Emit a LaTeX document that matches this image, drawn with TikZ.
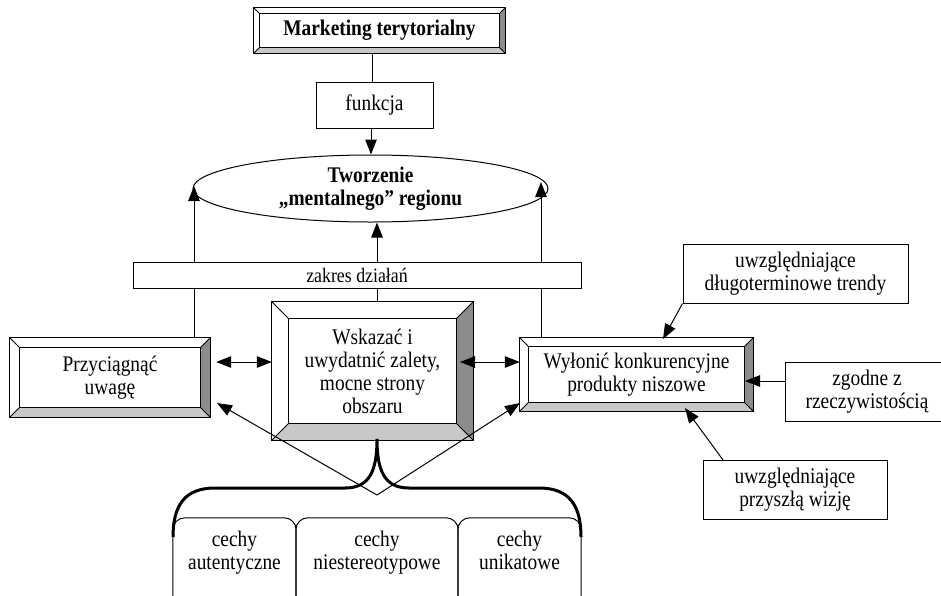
\documentclass[tikz,border=0pt]{standalone}
\usepackage{fontspec}
\setmainfont{Liberation Serif}[FakeStretch=0.87]
\usetikzlibrary{arrows.meta,calc,shapes.geometric,backgrounds}
\definecolor{bevdark}{HTML}{8C8C8C}
\definecolor{bevlight}{HTML}{C8C8C8}
\newcommand\bevbox[2]{%
  \begin{pgfonlayer}{background}
  \fill[white] (#1.north west) rectangle (#1.south east);
  \fill[bevlight] (#1.south west) -- (#1.south east) -- ($(#1.south east)+(-#2pt,#2pt)$) -- ($(#1.south west)+(#2pt,#2pt)$) -- cycle;
  \fill[bevdark] (#1.north east) -- (#1.south east) -- ($(#1.south east)+(-#2pt,#2pt)$) -- ($(#1.north east)+(-#2pt,-#2pt)$) -- cycle;
  \draw[ln] (#1.north west) rectangle (#1.south east);
  \draw[ln] ($(#1.north west)+(#2pt,-#2pt)$) rectangle ($(#1.south east)+(-#2pt,#2pt)$);
  \draw[ln] (#1.north west) -- ++(#2pt,-#2pt);
  \draw[ln] (#1.north east) -- ++(-#2pt,-#2pt);
  \draw[ln] (#1.south west) -- ++(#2pt,#2pt);
  \draw[ln] (#1.south east) -- ++(-#2pt,#2pt);
  \end{pgfonlayer}}
\begin{document}
\begin{tikzpicture}[x=1pt,y=-1pt,
  every node/.style={font=\fontsize{22.3}{23}\selectfont, align=center, inner sep=0pt},
  bold/.style={font=\fontsize{22.3}{23}\selectfont\bfseries},
  ln/.style={line width=1pt},
  box/.style={draw, ln, fill=white},
  tip/.style={},
  arr/.style={ln, -{Triangle[length=15pt,width=11.5pt]}},
  darr/.style={ln, {Triangle[length=15pt,width=11.5pt]}-{Triangle[length=15pt,width=11.5pt]}},
  brace/.style={line width=3pt},
]
\useasboundingbox (0,0) rectangle (941,595);
\clip (0,0) rectangle (941,595);

% nodes
\node[bold, minimum width=251pt, minimum height=45pt] (mt) at (379.5,30.5) {Marketing terytorialny};
\node[box, minimum width=117pt, minimum height=46pt] (fn) at (374.5,105) {funkcja};
\node[draw, ln, ellipse, bold, minimum width=355pt, minimum height=67pt] (el) at (370.5,188.5) {Tworzenie\\„mentalnego” regionu};
\node[box, minimum width=448pt, minimum height=26pt, font=\fontsize{20.5}{22}\selectfont] (zk) at (357,275) {zakres działań};
\node[minimum width=200pt, minimum height=79pt] (pu) at (110,377.5) {Przyciągnąć\\uwagę};
\node[minimum width=201pt, minimum height=138pt] (wu) at (372.5,371) {Wskazać i\\uwydatnić zalety,\\mocne strony\\obszaru};
\node[minimum width=233pt, minimum height=73pt] (wk) at (636.5,374.5) {Wyłonić konkurencyjne\\produkty niszowe};
\node[box, minimum width=225pt, minimum height=59pt] (dt) at (795.5,273.5) {uwzględniające\\długoterminowe trendy};
\node[box, minimum width=164pt, minimum height=59pt] (zr) at (867,391.5) {zgodne z\\rzeczywistością};
\node[box, minimum width=184pt, minimum height=59pt] (pw) at (795,489.5) {uwzględniające\\przyszłą wizję};
\node[minimum width=123pt, minimum height=72pt] (ca) at (234.5,554) {cechy\\autentyczne\strut};
\node[minimum width=162pt, minimum height=72pt] (cn) at (377,554) {cechy\\niestereotypowe\strut};
\node[minimum width=123pt, minimum height=72pt] (cu) at (519.5,554) {cechy\\unikatowe\strut};

\bevbox{mt}{6}
\bevbox{pu}{10}
\bevbox{wu}{17}
\bevbox{wk}{9}

% bottom rounded boxes
\foreach \n in {ca,cn,cu}
  \draw[ln, rounded corners=12pt] (\n.north west) rectangle ($(\n.south east)+(0,-20pt)$);

% helper coordinates
\coordinate (lv) at (194,0);
\coordinate (cv) at (377,0);
\coordinate (rv) at (541,0);
\coordinate (ltip) at (194,186);
\coordinate (rtip) at (541,182);
\coordinate (ya) at (0,362);
\coordinate (wuin) at (460,362);
\coordinate (dttip) at (663,339);
\coordinate (zrtip) at (745,381);
\coordinate (pwstart) at (723,460);
\coordinate (pwtip) at (685,408);
\coordinate (apex) at (377,495);
\coordinate (vl) at (217,403);
\coordinate (vr) at (520,403);

% connectors
\draw[ln] (mt.south -| 372,0) -- (fn.north -| 372,0);
\draw[arr] (fn.south -| 371,0) -- (el.north -| 371,0);
\draw[ln] (lv |- pu.north) -- (lv |- zk.south);
\draw[arr] (lv |- zk.north) -- (ltip);
\draw[ln] (cv |- wu.north) -- (cv |- zk.south);
\draw[arr] (cv |- zk.north) -- (cv |- el.south);
\draw[ln] (rv |- wk.north) -- (rv |- zk.south);
\draw[arr] (rv |- zk.north) -- (rtip);
\draw[darr, shorten <=6pt] (pu.east |- ya) -- (wu.west |- ya);
\draw[darr] (wuin) -- (wk.west |- ya);
\draw[arr] (dt.south west) -- (dttip);
\draw[arr] (zr.west |- zrtip) -- (zrtip);
\draw[arr] (pwstart) -- (pwtip);
\draw[arr] (apex) -- (vl);
\draw[arr] (apex) -- (vr);

% brace
\draw[brace] (173,537) .. controls (173,505) and (185,488) .. (215,488) -- (345,488)
  .. controls (370,488) and (377,470) .. (377,439)
  .. controls (377,470) and (384,488) .. (409,488) -- (539,488)
  .. controls (569,488) and (581,505) .. (581,537);
\end{tikzpicture}
\end{document}
